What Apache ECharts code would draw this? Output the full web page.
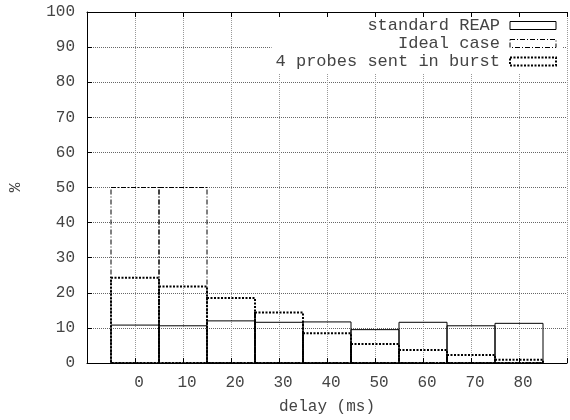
<!DOCTYPE html>
<html>
<head>
<meta charset="utf-8">
<script src="https://cdn.jsdelivr.net/npm/echarts@6/dist/echarts.min.js"></script>
<style>
  html, body { margin: 0; padding: 0; background: #fff; }
  #chart { width: 570px; height: 420px; }
</style>
</head>
<body>
<div id="chart"></div>
<script>
// delay bins (ms) and % of samples per bin
const delays = [0, 10, 20, 30, 40, 50, 60, 70, 80];
const standardReap = [10.8, 10.6, 12.0, 11.6, 11.7, 9.5, 11.6, 10.6, 11.3];
const idealCase = [50, 50, 0, 0, 0, 0, 0, 0, 0];
const burst4 = [24.3, 21.8, 18.5, 14.4, 8.5, 5.4, 3.7, 2.3, 0.9];
const seriesNames = ['standard REAP', 'Ideal case', '4 probes sent in burst'];

const FONT = 'Liberation Mono';
const TEXT = '#444';
const BIN = 10;

const styles = [
  { lineWidth: 1, lineDash: null, borderType: 'solid' },
  { lineWidth: 1, lineDash: [5, 2, 1, 2], borderType: [5, 2, 1, 2] },
  { lineWidth: 2, lineDash: [2, 1.5], borderType: [2, 1.5] }
];

function boxSeries(name, values, st) {
  return {
    type: 'custom',
    name: name,
    itemStyle: { color: '#000' },
    renderItem: function (params, api) {
      const x = api.value(0), v = api.value(1);
      const p0 = api.coord([x - BIN / 2, v]);
      const p1 = api.coord([x + BIN / 2, 0]);
      return {
        type: 'rect',
        shape: { x: p0[0], y: p0[1], width: p1[0] - p0[0], height: p1[1] - p0[1] },
        style: { fill: 'none', stroke: '#000', lineWidth: st.lineWidth, lineDash: st.lineDash }
      };
    },
    data: delays.map((d, i) => [d, values[i]])
  };
}

const chart = echarts.init(document.getElementById('chart'));

chart.setOption({
  animation: false,
  grid: { left: 87, right: -7, top: 12, bottom: 56 },
  legend: {
    orient: 'vertical',
    right: 7,
    top: 17,
    align: 'right',
    padding: [0, 6, 3, 4],
    itemGap: 1,
    itemWidth: 46,
    itemHeight: 8,
    backgroundColor: '#fff',
    selectedMode: false,
    textStyle: { fontFamily: FONT, fontSize: 17, color: TEXT, padding: [0, 5, 0, 0] },
    data: seriesNames.map((n, i) => ({
      name: n,
      icon: 'rect',
      itemStyle: { color: 'rgba(0,0,0,0)', borderColor: '#000', borderWidth: styles[i].lineWidth, borderType: styles[i].borderType }
    }))
  },
  xAxis: [{
    type: 'value',
    min: -10, max: 90, interval: 10,
    name: 'delay (ms)',
    nameLocation: 'middle',
    nameGap: 36,
    nameTextStyle: { fontFamily: FONT, fontSize: 16, color: TEXT },
    axisLine: { onZero: false, lineStyle: { color: '#000', width: 1 } },
    axisTick: { inside: true, length: 5, lineStyle: { color: '#000' } },
    axisLabel: {
      fontFamily: FONT, fontSize: 16, color: TEXT, margin: 12, padding: [0, 0, 0, 8],
      formatter: v => (v < 0 || v > 80) ? '' : String(v)
    },
    splitLine: { show: true, lineStyle: { color: '#999', width: 1, type: 'dotted' } }
  }, {
    type: 'value',
    position: 'top',
    min: -10, max: 90, interval: 10,
    axisLine: { onZero: false, lineStyle: { color: '#000', width: 1 } },
    axisTick: { inside: true, length: 5, lineStyle: { color: '#000' } },
    axisLabel: { show: false },
    splitLine: { show: false }
  }],
  yAxis: {
    type: 'value',
    min: 0, max: 100, interval: 10,
    name: '%',
    nameLocation: 'middle',
    nameRotate: 90,
    nameGap: 63,
    nameTextStyle: { fontFamily: FONT, fontSize: 16, color: TEXT },
    axisLine: { show: true, onZero: false, lineStyle: { color: '#000', width: 1 } },
    axisTick: { show: true, inside: true, length: 5, lineStyle: { color: '#000' } },
    axisLabel: { fontFamily: FONT, fontSize: 16, color: TEXT, margin: 12 },
    splitLine: { show: true, lineStyle: { color: '#666', width: 1, type: 'dotted' } }
  },
  series: [
    boxSeries(seriesNames[0], standardReap, styles[0]),
    boxSeries(seriesNames[1], idealCase, styles[1]),
    boxSeries(seriesNames[2], burst4, styles[2])
  ]
});
</script>
</body>
</html>
